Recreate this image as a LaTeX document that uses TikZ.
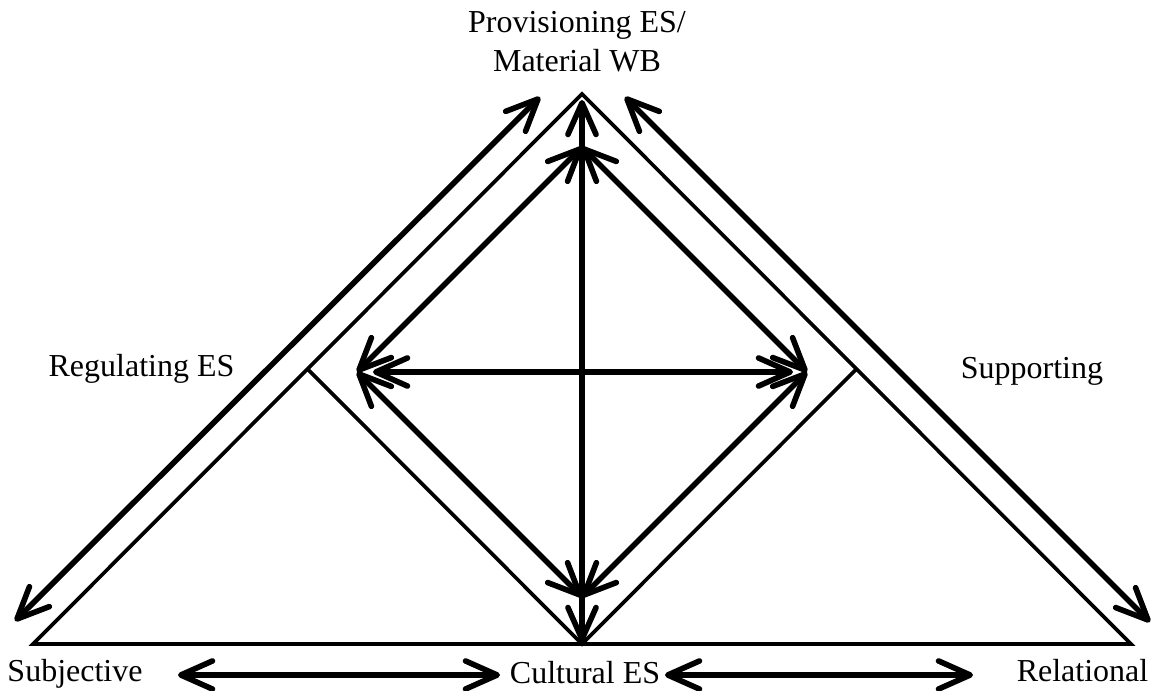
\documentclass[tikz,border=0pt]{standalone}
\usepackage{fontspec}
\setmainfont{Liberation Serif}
\usetikzlibrary{arrows.meta}

\begin{document}
\begin{tikzpicture}[font=\fontsize{18.2}{22.4}\selectfont, align=center,
    side/.style={line width=2.1pt, line join=miter},
    barb/.tip={Straight Barb[length=18pt,width=16pt,round]},
    link/.style={line width=3.2pt, barb-barb}]
  \useasboundingbox (0,0) rectangle (23.02,13.82);

  % triangle
  \coordinate (left) at (0.66,0.94);
  \coordinate (top) at (11.64,11.94);
  \coordinate (right) at (22.62,0.94);
  \coordinate (bottom) at (11.64,0.94);
  \coordinate (lmid) at (6.15,6.44);
  \coordinate (rmid) at (17.13,6.44);
  \draw[side] (left) -- (top) -- (right) -- cycle;
  \draw[side] (lmid) -- (bottom) -- (rmid);

  % labels
  \node[anchor=base] (prov) at (11.54,12.38) {Provisioning ES/\\Material WB};
  \node[anchor=base] (reg) at (2.83,6.28) {Regulating ES};
  \node[anchor=base] (sup) at (20.64,6.24) {Supporting};
  \node[anchor=base] (subj) at (1.50,0.18) {Subjective};
  \node[anchor=base] (cult) at (11.70,0.14) {Cultural ES};
  \node[anchor=base] (rel) at (21.65,0.18) {Relational};

  % inner diamond
  \coordinate (dtop) at (11.64,10.88);
  \coordinate (dleft) at (7.14,6.38);
  \coordinate (dright) at (16.14,6.38);
  \coordinate (dbottom) at (11.64,1.88);
  \foreach \a/\b in {dtop/dleft, dtop/dright, dleft/dbottom, dright/dbottom}
    \draw[link] (\a) -- (\b);

  \coordinate (vtop) at (11.64,11.82);
  \coordinate (vbot) at (11.64,0.98);
  \coordinate (hleft) at (7.46,6.38);
  \coordinate (hright) at (15.86,6.38);
  \draw[link] (vtop) -- (vbot);
  \draw[link] (hleft) -- (hright);

  % outer arrows
  \coordinate (oll) at (0.30,1.40);
  \coordinate (olu) at (10.80,11.88);
  \coordinate (oru) at (12.50,11.88);
  \coordinate (orl) at (23.00,1.38);
  \draw[link] (oll) -- (olu);
  \draw[link] (oru) -- (orl);

  % base arrows
  \coordinate (b1) at (3.56,0.32);
  \coordinate (b2) at (10.00,0.32);
  \coordinate (b3) at (13.30,0.32);
  \coordinate (b4) at (19.46,0.32);
  \draw[link] (b1) -- (b2);
  \draw[link] (b3) -- (b4);
\end{tikzpicture}
\end{document}
